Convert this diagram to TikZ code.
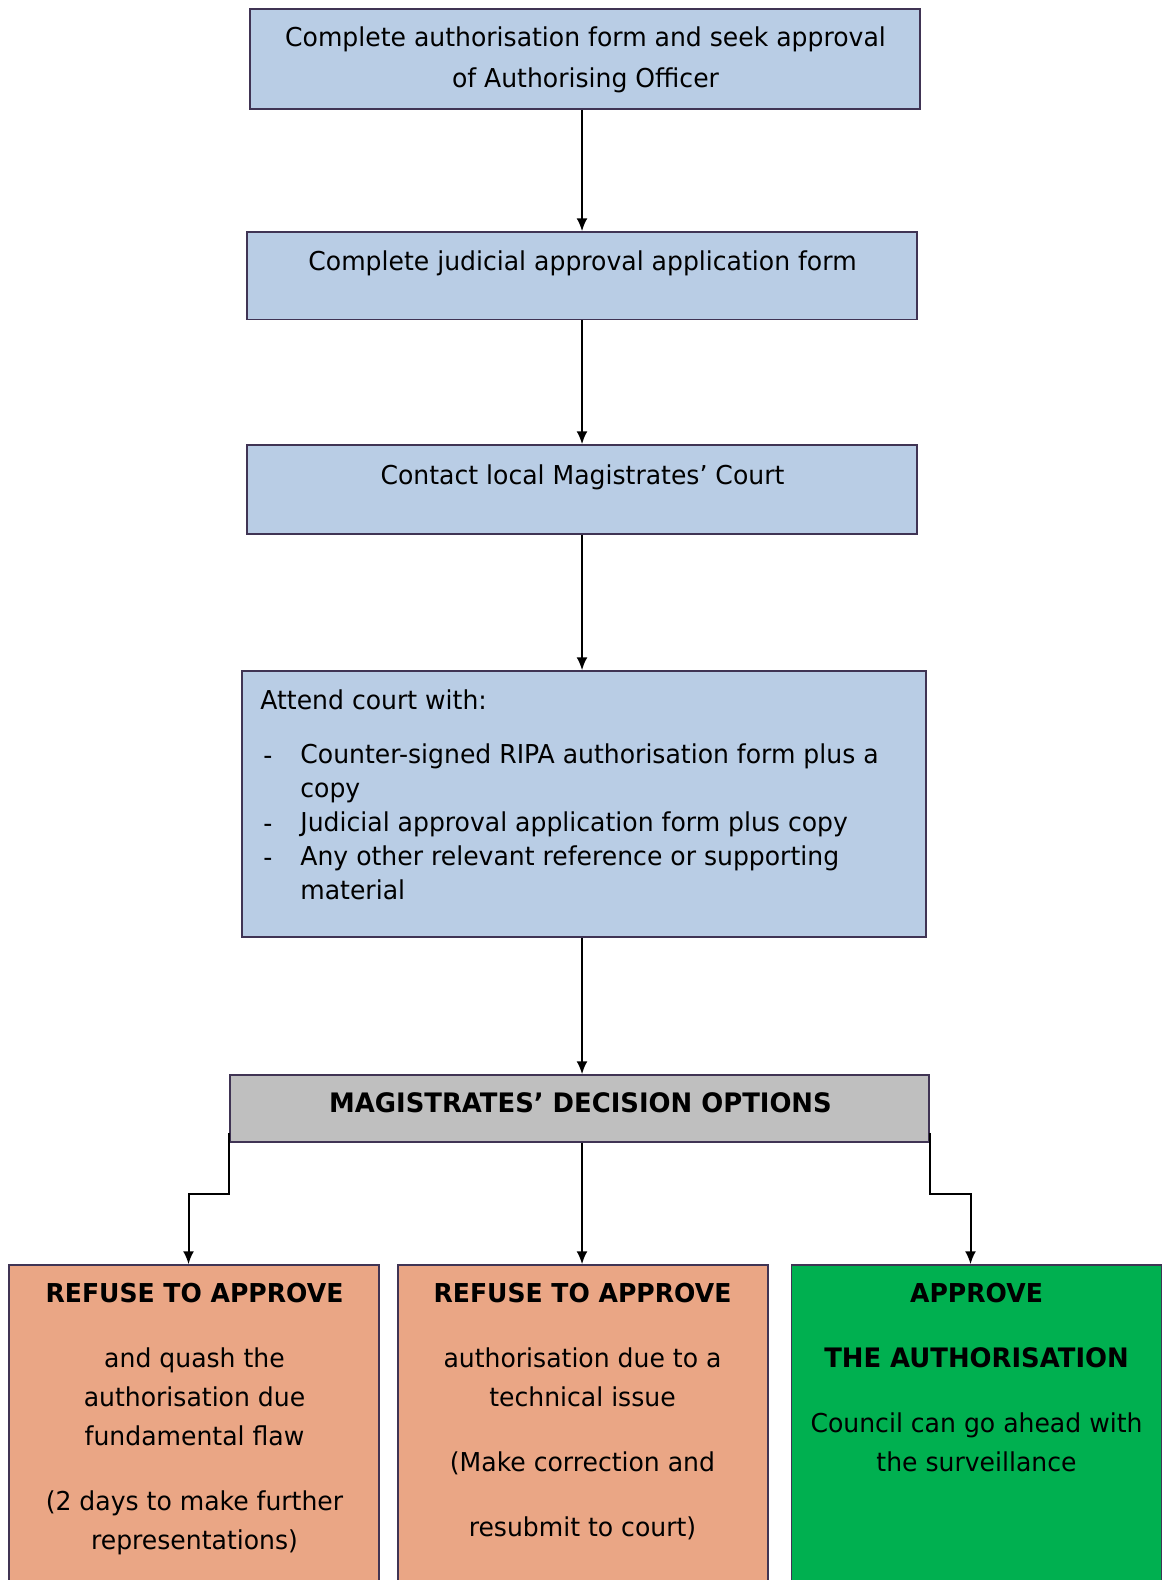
\documentclass[tikz,border=0pt]{standalone}
\usepackage{fontspec}
\setmainfont{DejaVu Sans}[FakeStretch=0.965]
\usetikzlibrary{calc,arrows.meta}
\definecolor{stepblue}{RGB}{185,205,229}
\definecolor{boxline}{RGB}{64,52,84}
\definecolor{optgrey}{RGB}{191,191,191}
\definecolor{refuseorange}{RGB}{234,166,133}
\definecolor{approvegreen}{RGB}{0,176,80}

\begin{document}
\begin{tikzpicture}[x=0.5pt, y=-0.5pt, font=\fontsize{13}{19.5}\selectfont,
  stepbox/.style={draw=boxline, fill=stepblue, line width=0.75pt, inner sep=0pt, minimum width=335pt},
  optbox/.style={draw=boxline, fill=#1, line width=0.75pt, inner sep=0pt, minimum width=185pt, minimum height=167.5pt},
  txt/.style={anchor=base, align=center, inner sep=0pt},
  arrow/.style={line width=1pt, -{Latex[length=6.5pt, width=5.5pt]}}]
\useasboundingbox (0,0) rectangle (1164,1580);
\fill [white] (0,0) rectangle (1164,1580);

\node [stepbox, minimum height=50pt] (auth) at (585,59) {};
\node [stepbox, minimum height=43.75pt] (judicial) at (582,275.75) {};
\node [stepbox, minimum height=44.5pt] (court) at (582,489.5) {};
\node [stepbox, minimum width=342pt, minimum height=133pt] (attend) at (584,804) {};
\node [draw=boxline, fill=optgrey, line width=0.75pt, minimum width=349.5pt, minimum height=33.5pt] (options) at (579.5,1108.5) {};
\node [optbox=refuseorange] (quash) at (194,1432.5) {};
\node [optbox=refuseorange] (technical) at (583,1432.5) {};
\node [optbox=approvegreen] (approve) at (976.5,1432.5) {};

% multi-line texts sit on the baseline of their last line
\node [txt] (authtext) at (585.5,87) {Complete authorisation form and seek approval\\[1pt]of Authorising Officer};
\node [txt] (judicialtext) at (582.5,270) {Complete judicial approval application form};
\node [txt] (courttext) at (582.5,484) {Contact local Magistrates’ Court};
\node [txt, anchor=base west] (attendtext) at (260,709) {Attend court with:};
\node [txt, anchor=base west, align=left, font=\fontsize{13}{17}\selectfont] (dashes) at (263,866) {-\\[17pt]-\\-};
\node [txt, anchor=base west, align=left, font=\fontsize{13}{17}\selectfont] (items) at (300,899)
  {Counter-signed RIPA authorisation form plus a\\copy\\Judicial approval application form plus copy\\Any other relevant reference or supporting\\material};
\node [txt, font=\fontsize{13.4}{19.5}\bfseries] (optionstext) at (580.5,1112) {MAGISTRATES’ DECISION OPTIONS};

\node [txt] (quashtext) at (194.5,1549) {\textbf{REFUSE TO APPROVE}\\[13pt]and quash the\\authorisation due\\fundamental flaw\\[13pt](2 days to make further\\representations)};
\node [txt] (technicaltext) at (582.5,1536) {\textbf{REFUSE TO APPROVE}\\[13pt]authorisation due to a\\technical issue\\[13pt](Make correction and\\[13pt]resubmit to court)};
\node [txt] (approvetext) at (976.5,1471) {\textbf{APPROVE}\\[13pt]{\fontsize{13.4}{19.5}\bfseries THE AUTHORISATION}\\[13pt]Council can go ahead with\\the surveillance};

\draw [arrow] (auth.south -| judicial.north) -- (judicial.north);
\draw [arrow] (judicial.south) -- (court.north);
\draw [arrow] (court.south) -- (attend.north -| court.south);
\draw [arrow] (attend.south -| court.south) -- (options.north -| court.south);
\draw [arrow] (options.south -| court.south) -- (technical.north -| court.south);
\draw [arrow] ([yshift=5pt]options.south west) -- ++(0,61) -| ([xshift=-2.75pt]quash.north);
\draw [arrow] ([yshift=5pt]options.south east) -- ++(0,61) -| ([xshift=-3pt]approve.north);
\end{tikzpicture}
\end{document}
